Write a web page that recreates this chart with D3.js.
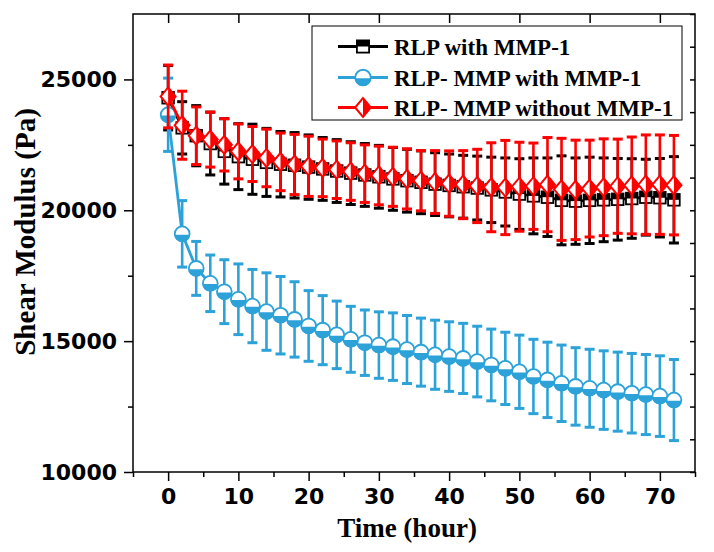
<!DOCTYPE html>
<html><head><meta charset="utf-8">
<script src="https://cdn.jsdelivr.net/npm/d3@7"></script>
<style>body{margin:0;background:#fff}svg{display:block}</style>
</head><body>
<div id="chart"></div>
<script>
const times = [0,2,4,6,8,10,12,14,16,18,20,22,24,26,28,30,32,34,36,38,40,42,44,46,48,50,52,54,56,58,60,62,64,66,68,70,72];
const seriesNames = ["RLP with MMP-1","RLP- MMP with MMP-1","RLP- MMP without MMP-1"];
const rlpMean = [24300,23150,22850,22550,22250,22050,21950,21830,21760,21720,21650,21580,21500,21420,21350,21280,21200,21130,21070,21000,20950,20900,20850,20780,20700,20620,20550,20500,20380,20350,20380,20400,20420,20450,20500,20480,20400];
const rlpErr  = [1230,1000,1150,1200,1250,1260,1340,1300,1250,1250,1230,1200,1200,1200,1200,1200,1200,1200,1200,1200,1200,1200,1220,1250,1300,1350,1450,1500,1700,1650,1650,1600,1560,1520,1450,1500,1650];
const mmpMean = [23650,19100,17780,17210,16890,16600,16340,16130,15990,15830,15580,15420,15240,15070,14940,14850,14790,14680,14580,14480,14410,14340,14220,14090,13960,13830,13650,13520,13390,13270,13200,13130,13070,13010,12960,12900,12750];
const mmpErr  = [1400,1270,1030,1080,1220,1350,1400,1480,1480,1440,1350,1320,1290,1260,1250,1270,1290,1300,1300,1320,1330,1340,1350,1370,1380,1400,1420,1440,1460,1480,1490,1500,1510,1520,1530,1540,1550];
const noMean  = [24350,23250,22850,22700,22500,22250,22150,22000,21850,21750,21680,21620,21550,21480,21400,21330,21280,21200,21130,21080,21020,20980,20930,20880,20870,20900,20920,20980,20800,20780,20830,20880,20920,20950,20980,20980,20960];
const noErr   = [1200,1300,1100,1050,1000,1050,1050,1100,1100,1150,1150,1100,1100,1100,1100,1120,1130,1150,1150,1200,1250,1300,1400,1700,1800,1700,1650,1800,1950,1900,1850,1850,1800,1850,1900,1900,1900];
const xTicks = [0,10,20,30,40,50,60,70];
const yTicks = [10000,15000,20000,25000];

const W = 714, H = 552;
const m = {l:133, t:14, r:695, b:472};
const svg = d3.select("#chart").append("svg").attr("width",W).attr("height",H);
const x = d3.scaleLinear().domain([-5,75]).range([m.l,m.r]);
const y = d3.scaleLinear().domain([10000,27500]).range([m.b,m.t]);

const colors = ["#000000","#2ca2d9","#ff0000"];
const means = [rlpMean, mmpMean, noMean];
const errs = [rlpErr, mmpErr, noErr];
const shapes = ["square","circle","diamond"];

// axes
const tickFont = "bold 22px 'DejaVu Sans', sans-serif";
svg.append("g").attr("transform",`translate(0,${m.b})`)
  .call(d3.axisBottom(x).tickValues(xTicks).tickSize(9).tickSizeOuter(0).tickPadding(7));
svg.append("g").attr("transform",`translate(0,${m.b})`)
  .call(d3.axisBottom(x).tickValues(d3.range(-5,76,10)).tickSize(5).tickSizeOuter(0).tickFormat(""));
svg.append("g").attr("transform",`translate(${m.l},0)`)
  .call(d3.axisLeft(y).tickValues(yTicks).tickSize(9).tickSizeOuter(0).tickPadding(7).tickFormat(d3.format("d")));
svg.append("g").attr("transform",`translate(${m.l},0)`)
  .call(d3.axisLeft(y).tickValues([12500,17500,22500]).tickSize(5).tickSizeOuter(0).tickFormat(""));
// top & right (inward)
svg.append("g").attr("transform",`translate(0,${m.t})`)
  .call(d3.axisBottom(x).tickValues(xTicks).tickSize(9).tickSizeOuter(0).tickFormat(""));
svg.append("g").attr("transform",`translate(${m.r},0)`)
  .call(d3.axisLeft(y).tickValues(d3.range(10000,27501,1250)).tickSize(5).tickSizeOuter(0).tickFormat(""));
svg.selectAll(".domain").remove();
svg.selectAll(".tick line").attr("stroke","#000").attr("stroke-width",1.5);
svg.selectAll(".tick text").style("font",tickFont).attr("fill","#000");

svg.append("rect").attr("x",m.l).attr("y",m.t).attr("width",m.r-m.l).attr("height",m.b-m.t)
  .attr("fill","none").attr("stroke","#000").attr("stroke-width",1.5);

svg.append("text").attr("x",407).attr("y",537).attr("text-anchor","middle")
  .style("font","bold 27px 'Liberation Serif', 'Times New Roman', serif").text("Time (hour)");
svg.append("text").attr("transform",`translate(35,232) rotate(-90)`).attr("text-anchor","middle")
  .style("font","bold 29px 'Liberation Serif', 'Times New Roman', serif").text("Shear Modulus (Pa)");

function marker(g, shape, color, cx, cy, s) {
  const gg = g.append("g").attr("transform",`translate(${cx},${cy})`);
  if (shape==="circle") {
    const r = 7.4*s;
    gg.append("circle").attr("r",r).attr("fill","#fff").attr("stroke",color).attr("stroke-width",1.8);
    gg.append("path").attr("d",`M${-r},0 A${r},${r} 0 0 0 ${r},0 Z`).attr("fill",color).attr("transform","translate(0,0.8)");
  } else if (shape==="square") {
    const h = 5.8*s;
    gg.append("rect").attr("x",-h).attr("y",-h).attr("width",2*h).attr("height",2*h).attr("fill","#fff").attr("stroke",color).attr("stroke-width",1.8);
    gg.append("rect").attr("x",-h).attr("y",-h).attr("width",2*h).attr("height",h).attr("fill",color);
  } else {
    const w = 7.5*s, hh = 9*s;
    gg.append("path").attr("d",`M0,${-hh} L${w},0 L0,${hh} L${-w},0 Z`).attr("fill","#fff").attr("stroke",color).attr("stroke-width",2);
    gg.append("path").attr("d",`M0,${-hh} L${w},0 L0,${hh} Z`).attr("fill",color);
  }
}

const plot = svg.append("g");
[0,1,2].forEach(i => {
  const g = plot.append("g");
  const c = colors[i];
  const pts = times.map((t,j)=>({t, v:means[i][j], e:errs[i][j]}));
  pts.forEach(p => {
    g.append("line").attr("x1",x(p.t)).attr("x2",x(p.t)).attr("y1",y(p.v+p.e)).attr("y2",y(p.v-p.e))
      .attr("stroke",c).attr("stroke-width",2.6);
    [p.v+p.e, p.v-p.e].forEach(v => g.append("line").attr("x1",x(p.t)-5).attr("x2",x(p.t)+5)
      .attr("y1",y(v)).attr("y2",y(v)).attr("stroke",c).attr("stroke-width",3));
  });
  g.append("path").datum(pts).attr("fill","none").attr("stroke",c).attr("stroke-width",2.8)
    .attr("d", d3.line().x(d=>x(d.t)).y(d=>y(d.v)));
  pts.forEach(p => marker(g, shapes[i], c, x(p.t), y(p.v), 1));
});

// legend
const lg = svg.append("g");
lg.append("rect").attr("x",312).attr("y",26).attr("width",370).attr("height",94)
  .attr("fill","#fff").attr("stroke","#000").attr("stroke-width",1);
const legY = [46.5, 77.5, 107.5];
[0,1,2].forEach(i => {
  lg.append("line").attr("x1",338).attr("x2",388).attr("y1",legY[i]).attr("y2",legY[i])
    .attr("stroke",colors[i]).attr("stroke-width",2.8);
  marker(lg, shapes[i], colors[i], 363, legY[i], 1.05);
  lg.append("text").attr("x",394).attr("y",legY[i]+8).style("font","bold 23px 'Liberation Serif', 'Times New Roman', serif")
    .text(seriesNames[i]);
});
</script>
</body></html>
